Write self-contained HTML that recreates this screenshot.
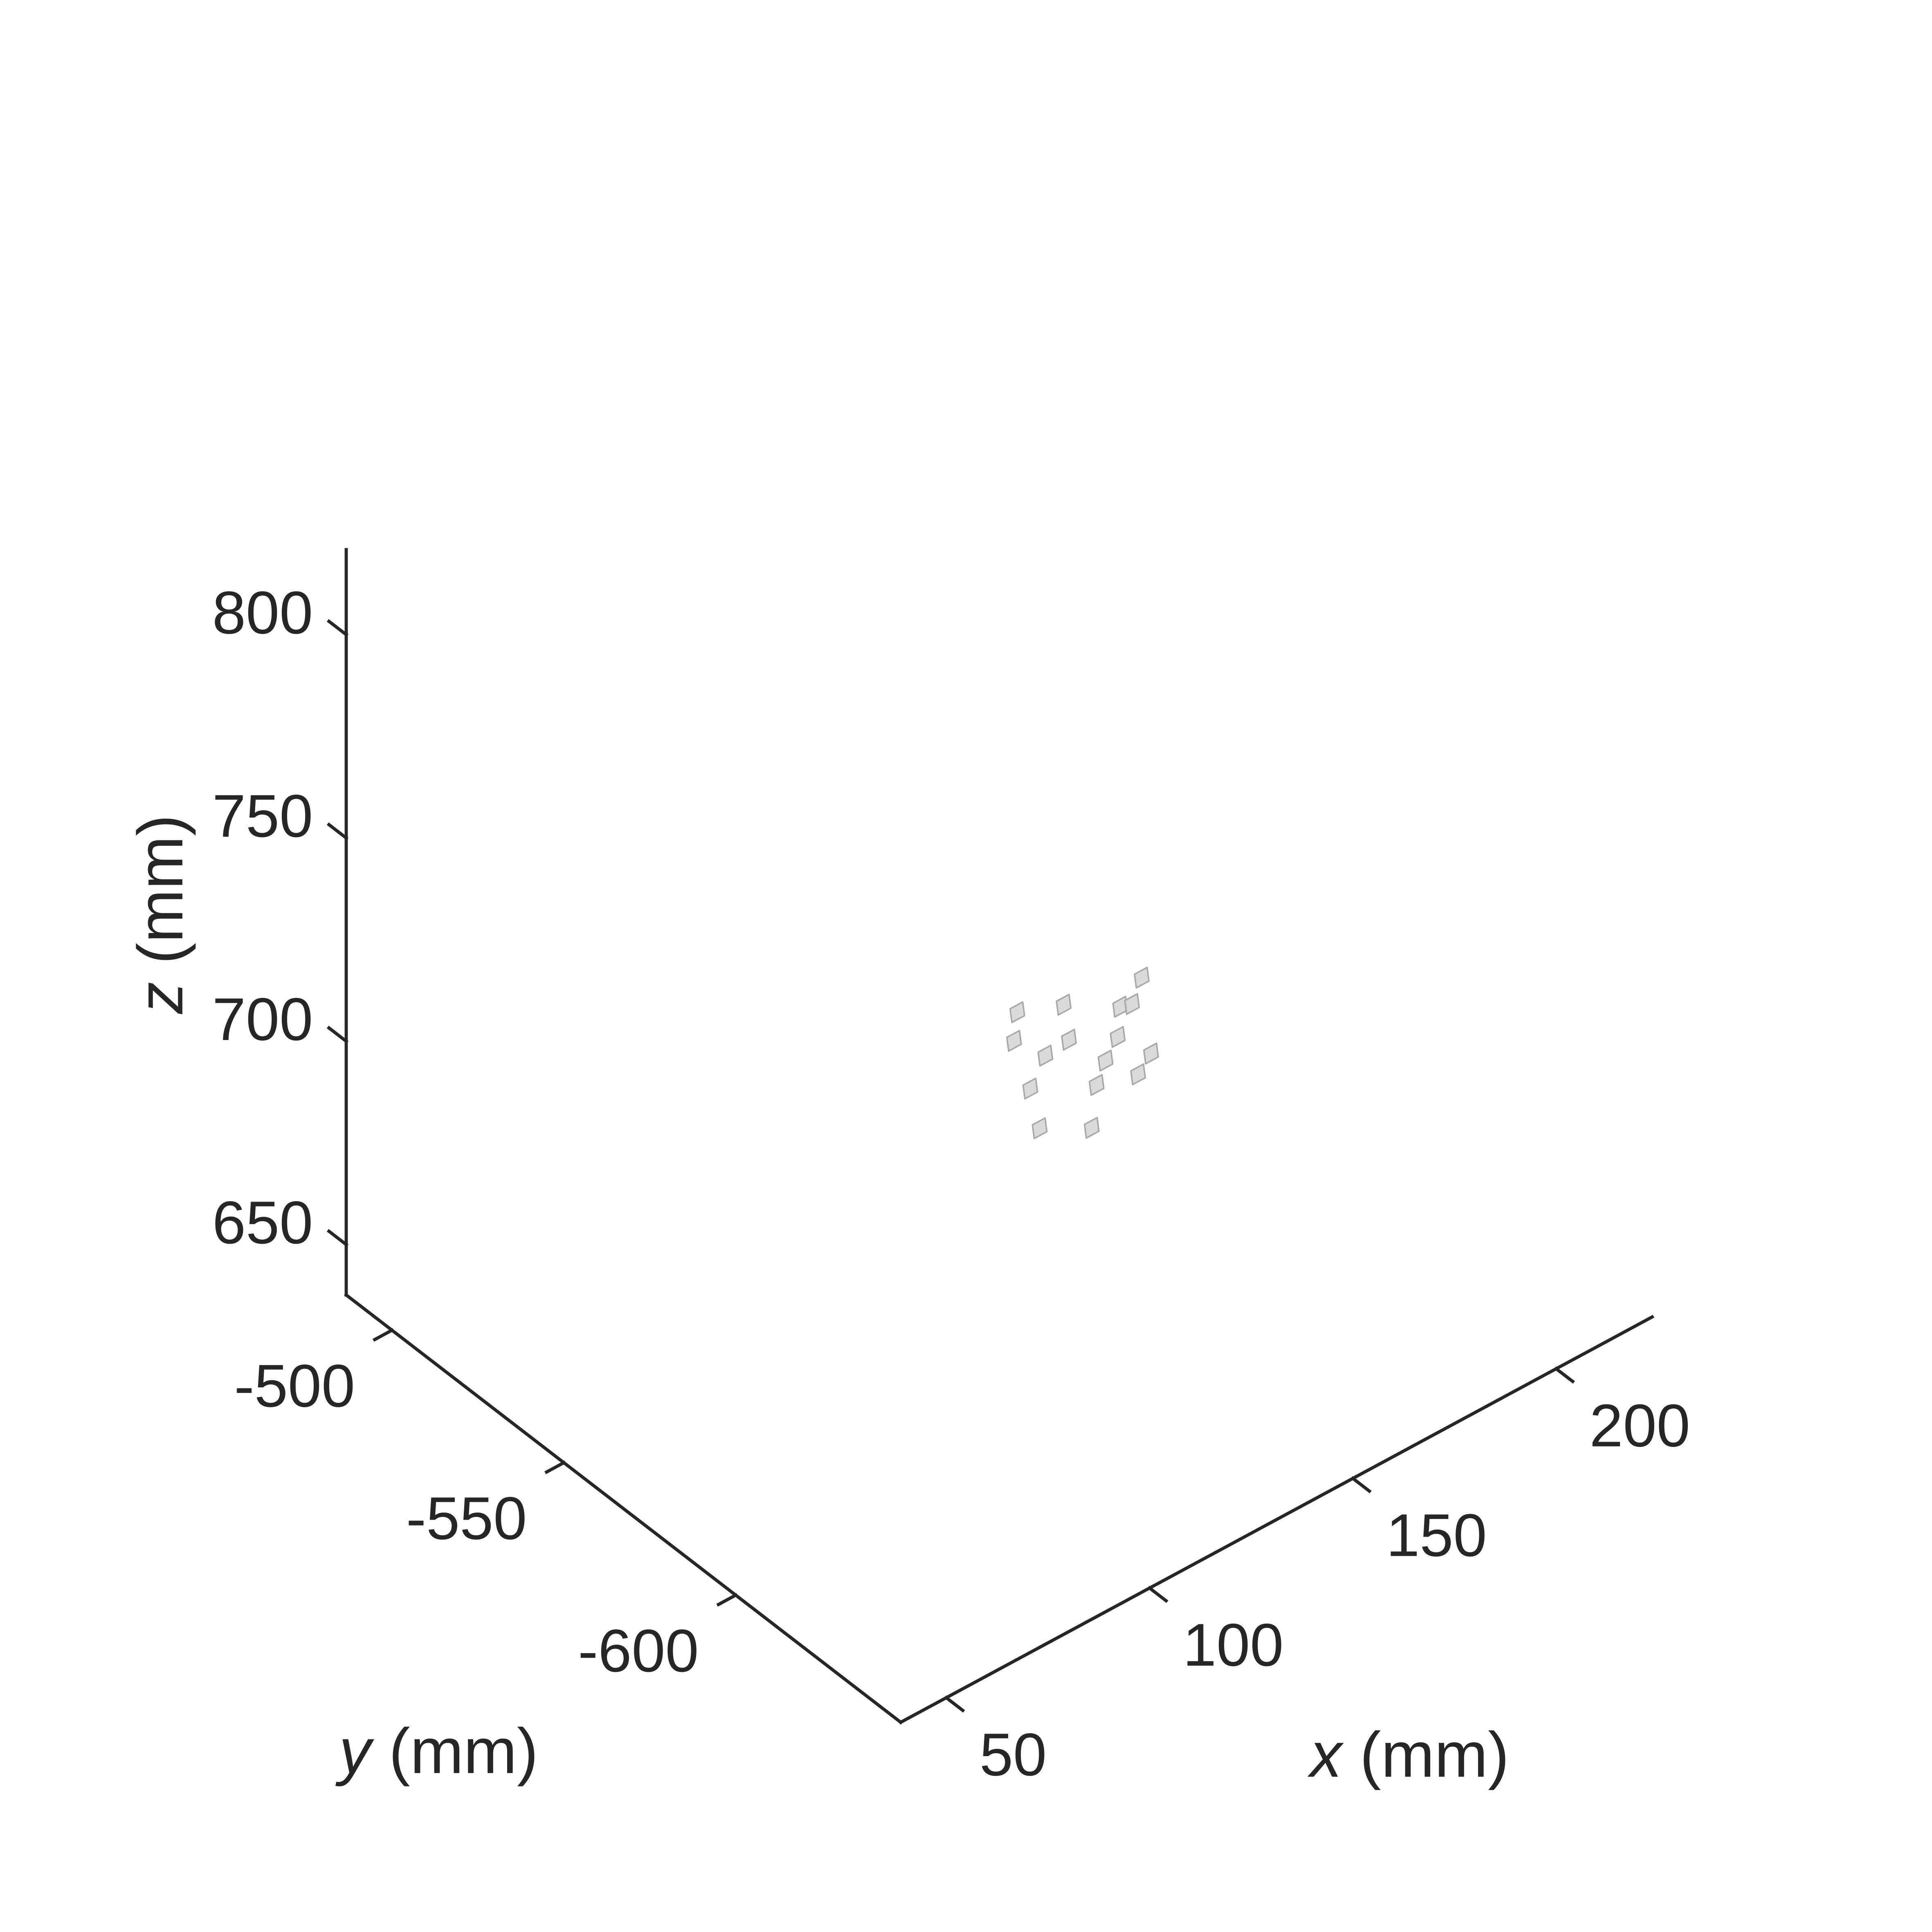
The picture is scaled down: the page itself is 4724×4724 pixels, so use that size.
<!DOCTYPE html>
<html><head><meta charset="utf-8"><style>
html,body{margin:0;padding:0;background:#fff;}
svg{display:block;}
text{font-family:"Liberation Sans",Arial,sans-serif;fill:#262626;font-size:49px;}
text.title{font-size:52px;}
</style></head><body>
<svg id="chart" width="4724" height="4724" viewBox="0 0 1568 1568" xmlns="http://www.w3.org/2000/svg">
<g id="axes"></g>
<g id="patches"></g>
<g id="labels"></g>
</svg>
<script>
// data (mm)
const patchX = [140.1,151.5,170.7,165.4,168.3,139.3,152.8,164.8,147.0,161.8,173.0,143.3,159.6,169.8,145.6,158.4];
const patchZ = [701.1,696.8,693.1,688.8,687.9,694.5,687.5,681.7,686.7,677.5,673.2,680.6,672.7,669.8,669.6,662.8];
const patchY = [-560,-560,-560,-560,-560,-560,-560,-560,-560,-560,-560,-560,-560,-560,-560,-560];
const xTicks = [50,100,150,200];
const yTicks = [-500,-550,-600];
const zTicks = [650,700,750,800];
const xLim = [38.8,223.6], yLim = [-648,-486.7], zLim = [637.6,820.9];

const NS='http://www.w3.org/2000/svg';
function P(x,y,z){
  const dx=x-xLim[0], dy=yLim[1]-y, dz=z-zLim[0];
  return [281+3.3*dx+2.79*dy, 1051-1.78*dx+2.15*dy-3.3*dz];
}
function el(tag,attrs,parent){const e=document.createElementNS(NS,tag);for(const k in attrs)e.setAttribute(k,attrs[k]);parent.appendChild(e);return e;}
const ax=document.getElementById('axes'), pg=document.getElementById('patches'), lg=document.getElementById('labels');
const stroke={stroke:'#262626','stroke-width':2.6,fill:'none','stroke-linecap':'square'};
function line(a,b,name){const l=el('line',Object.assign({x1:a[0],y1:a[1],x2:b[0],y2:b[1]},stroke),ax);

}
line(P(xLim[0],yLim[1],zLim[0]),P(xLim[0],yLim[1],zLim[1]),'z-axis-line');
line(P(xLim[0],yLim[1],zLim[0]),P(xLim[0],yLim[0],zLim[0]),'y-axis-line');
line(P(xLim[0],yLim[0],zLim[0]),P(xLim[1],yLim[0],zLim[0]),'x-axis-line');

function label(txt,x,y,anchor,name){const t=el('text',{x:x,y:y,'text-anchor':anchor},lg);t.textContent=txt;

return t;}

zTicks.forEach(v=>{const p=P(xLim[0],yLim[1],v);line(p,[p[0]-14,p[1]-10.8],'z-tick');
label(String(v),p[0]-27,p[1]-1,'end','z-tick-label');});
yTicks.forEach(v=>{const p=P(xLim[0],v,zLim[0]);line(p,[p[0]-14,p[1]+7.6],'y-tick');
label(String(v),p[0]-79,p[1]+62,'middle','y-tick-label');});
xTicks.forEach(v=>{const p=P(v,yLim[0],zLim[0]);line(p,[p[0]+13.4,p[1]+10.3],'x-tick');
label(String(v),p[0]+27,p[1]+63,'start','x-tick-label');});

// axis titles
let t=el('text',{x:1144,y:1442,'text-anchor':'middle','class':'title'},lg);


t.innerHTML='<tspan font-style="italic">x</tspan> (mm)';
t=el('text',{x:356,y:1439,'text-anchor':'middle','class':'title'},lg);


t.innerHTML='<tspan font-style="italic">y</tspan> (mm)';
t=el('text',{x:0,y:0,'text-anchor':'middle','class':'title',transform:'translate(148,742) rotate(-90)'},lg);


t.innerHTML='<tspan font-style="italic">z</tspan> (mm)';

// patches
const U=[3.1,0,0], V=[0.44,0,-3.6];
patchX.forEach((x,i)=>{
  const y=patchY[i], z=patchZ[i];
  const c=[P(x,y,z),P(x+U[0],y,z+U[2]),P(x+U[0]+V[0],y,z+U[2]+V[2]),P(x+V[0],y,z+V[2])];
  const poly=el('polygon',{points:c.map(q=>q.join(',')).join(' '),fill:'#d6d6d6','fill-opacity':0.9,stroke:'#a8a8a8','stroke-width':1.2,'stroke-linejoin':'round'},pg);
  
  
});
</script>
</body></html>
